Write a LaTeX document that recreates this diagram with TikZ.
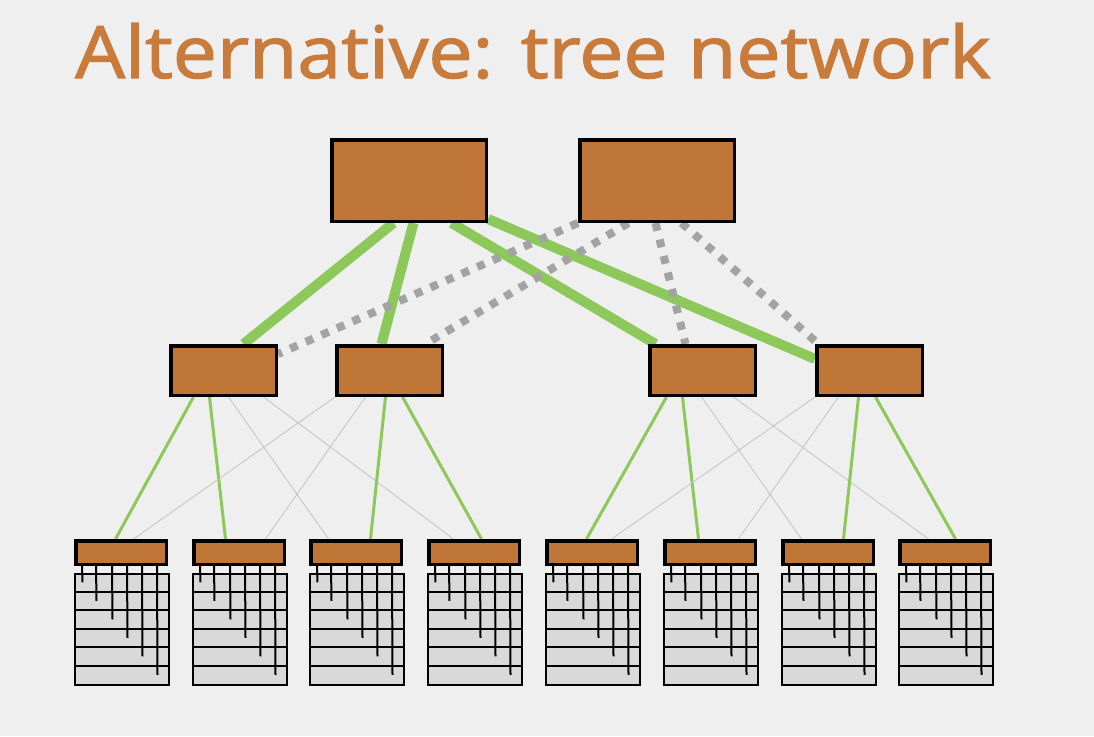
\documentclass[tikz,border=0pt]{standalone}
\usepackage{fontspec}
\setmainfont{Open Sans}
\newfontfamily\titlefont{Open Sans}[FakeBold=1.6]
\usetikzlibrary{calc}
\pgfdeclarelayer{back}
\pgfdeclarelayer{bg}
\pgfsetlayers{back,bg,main}
\definecolor{bgc}{HTML}{EFEFEF}
\definecolor{sworange}{HTML}{C07636}
\definecolor{titleorange}{HTML}{C97B3C}
\definecolor{linkgreen}{HTML}{8DC85B}
\definecolor{dashgray}{HTML}{A3A3A3}
\definecolor{thingray}{HTML}{C6C6C6}
\definecolor{rackfill}{HTML}{D9D9D9}
\begin{document}
\begin{tikzpicture}[x=1pt,y=-1pt,
  sw/.style={draw=black,fill=sworange,line width=3.5pt,inner sep=0pt,rectangle},
  tor/.style={sw,minimum width=90.5pt,minimum height=23.5pt},
  rack/.style={draw=black,fill=rackfill,line width=2pt,inner sep=0pt,rectangle,minimum width=94pt,minimum height=111pt},
  rackline/.style={draw=black,line width=2pt},
  uplink/.style={draw=linkgreen,line width=10pt},
  backup/.style={draw=dashgray,line width=8pt,dash pattern=on 8pt off 9pt},
  podlink/.style={draw=linkgreen,line width=3pt},
  spare/.style={draw=thingray,line width=0.9pt}]
\begin{pgfonlayer}{back}
\fill[bgc] (0,0) rectangle (1094,736);
\end{pgfonlayer}
\useasboundingbox (0,0) rectangle (1094,736);

\node[anchor=base west,inner sep=0pt,text=titleorange,font=\titlefont] (title) at (75,78)
  {\resizebox{915pt}{55pt}{Alternative: tree network}};

% core switches
\node[sw,minimum width=154.5pt,minimum height=81.5pt] (A) at (409,180.5) {};
\node[sw,minimum width=154.5pt,minimum height=81.5pt] (B) at (657,180.5) {};
% aggregation switches
\node[sw,minimum width=105.5pt,minimum height=49.5pt] (M1) at (223.5,370.5) {};
\node[sw,minimum width=105.5pt,minimum height=49.5pt] (M2) at (389.5,370.5) {};
\node[sw,minimum width=105.5pt,minimum height=49.5pt] (M3) at (702.5,370.5) {};
\node[sw,minimum width=105.5pt,minimum height=49.5pt] (M4) at (869.5,370.5) {};

% racks with top-of-rack switches
\foreach \i/\L in {1/74,2/192,3/309,4/427,5/545,6/663,7/781,8/898} {
  \node[rack] (R\i) at (\L+48,629.5) {};
  \foreach \k in {1,...,5}
    \draw[rackline] ($(R\i.north west)+(0,18.5*\k)$) -- ($(R\i.north east)+(0,18.5*\k)$);
  \node[tor] (T\i) at (\L+47,552.5) {};
  \foreach \k/\dx in {1/8,2/22,3/38,4/53,5/68,6/83}
    \draw[rackline] ($(T\i.south west)+(\dx,0)$) -- ($(R\i.north west)+(\dx+0.5,18.5*\k-9.25)$);
}

\begin{pgfonlayer}{bg}
% pod links
\draw[podlink] ($(M1.south west)+(24.5,0)$) -- ($(T1.north west)+(41.5,0)$);
\draw[podlink] ($(M1.south west)+(40.5,0)$) -- ($(T2.north west)+(33.5,0)$);
\draw[spare]   ($(M1.south west)+(59.5,0)$) -- ($(T3.north west)+(19.5,0)$);
\draw[spare]   ($(M1.south west)+(94.5,0)$) -- ($(T4.north west)+(26.5,0)$);
\draw[spare]   ($(M2.south west)+(0,0)$)    -- ($(T1.north west)+(59.5,0)$);
\draw[spare]   ($(M2.south west)+(30.5,0)$) -- ($(T2.north west)+(73.5,0)$);
\draw[podlink] ($(M2.south west)+(50.5,0)$) -- ($(T3.north west)+(61.5,0)$);
\draw[podlink] ($(M2.south west)+(67.5,0)$) -- ($(T4.north west)+(54.5,0)$);
\draw[podlink] ($(M3.south west)+(18.5,0)$) -- ($(T5.north west)+(41.5,0)$);
\draw[podlink] ($(M3.south west)+(34.5,0)$) -- ($(T6.north west)+(35.5,0)$);
\draw[spare]   ($(M3.south west)+(53.5,0)$) -- ($(T7.north west)+(20.5,0)$);
\draw[spare]   ($(M3.south west)+(85.5,0)$) -- ($(T8.north west)+(30.5,0)$);
\draw[spare]   ($(M4.south west)+(0,0)$)    -- ($(T5.north west)+(66.5,0)$);
\draw[spare]   ($(M4.south west)+(23.5,0)$) -- ($(T6.north west)+(75.5,0)$);
\draw[podlink] ($(M4.south west)+(43.5,0)$) -- ($(T7.north west)+(62.5,0)$);
\draw[podlink] ($(M4.south west)+(60.5,0)$) -- ($(T8.north west)+(57.5,0)$);
% core uplinks
\draw[uplink] ($(A.south west)+(63.5,0)$)  -- ($(M1.north west)+(74.5,0)$);
\draw[uplink] ($(A.south west)+(83.5,0)$)  -- ($(M2.north west)+(46.5,0)$);
\draw[uplink] ($(A.south west)+(121.5,0)$) -- ($(M3.north west)+(7.5,0)$);
\draw[uplink] ($(A.south east)+(0,-4)$)    -- ($(M4.north west)+(0,15)$);
% backup core links
\draw[backup] ($(B.south west)+(0,0)$)     -- ($(M1.north east)+(0,10)$);
\draw[backup] ($(B.south west)+(50.5,0)$)  -- ($(M2.north west)+(90.5,0)$);
\draw[backup] ($(B.south west)+(77.5,0)$)  -- ($(M3.north west)+(37.5,0)$);
\draw[backup] ($(B.south west)+(103.5,0)$) -- ($(M4.north west)+(3.5,0)$);
\end{pgfonlayer}
\end{tikzpicture}
\end{document}
